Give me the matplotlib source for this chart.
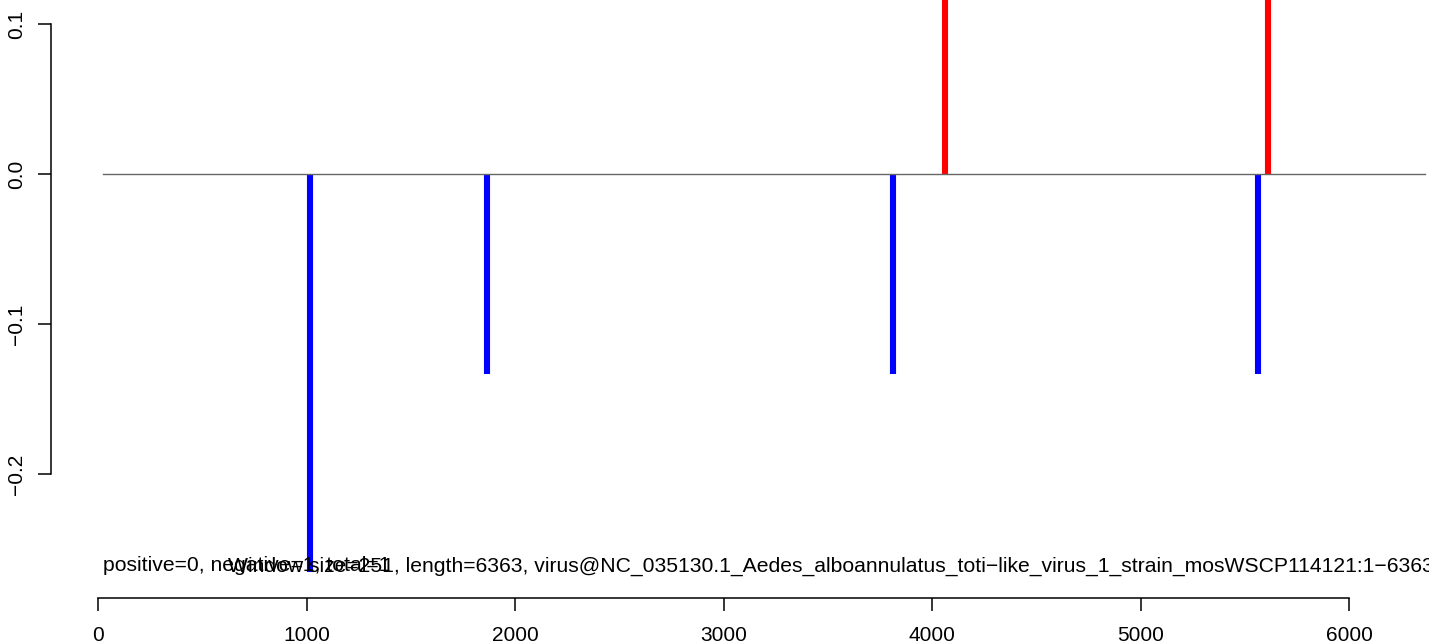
import matplotlib
matplotlib.use("Agg")
import matplotlib.pyplot as plt

plt.rcParams['font.family'] = ['Liberation Sans', 'DejaVu Sans']

# window positions and scores
neg_pos = [1017, 1866, 3813, 5564]
neg_val = [-0.265, -0.1333, -0.1333, -0.1333]
pos_pos = [4062, 5612]
pos_val = [0.2667, 0.2667]
seq_start = 24
seq_end = 6363
x_ticks = [0, 1000, 2000, 3000, 4000, 5000, 6000]
y_ticks = [-0.2, -0.1, 0.0, 0.1]
y_ticklabels = ['\u22120.2', '\u22120.1', '0.0', '0.1']
info_text = 'positive=0, negative=1, total=1'
title_text = ('Window size=251, length=6363, '
              'virus@NC_035130.1_Aedes_alboannulatus_toti\u2212like_virus_1_strain_mosWSCP114121:1\u22126363')

W, H = 1429, 644
fig = plt.figure(figsize=(W / 100, H / 100), dpi=100)
ax = fig.add_axes([0, 0, 1, 1])

# pixel mapping: x=0 at 98px, 208.5px per 1000; y=0 at 174px, 1500px per unit
xs = 0.2085
x0px = 98
y0px = 174
ys = 1500
ax.set_xlim(-x0px / xs, (W - x0px) / xs)
ax.set_ylim(-(H - y0px) / ys, y0px / ys)
ax.patch.set_alpha(0)

ax.vlines(neg_pos, 0, neg_val, colors='#0000FF', linewidth=4.4, capstyle='butt', zorder=2)
ax.vlines(pos_pos, 0, pos_val, colors='#FF0000', linewidth=4.4, capstyle='butt', zorder=2)
ax.plot([seq_start, seq_end], [0, 0], color='#666666', linewidth=1.0, zorder=3)

# the two labels overlap in the original too
fs = 15.2
ax.text(seq_start, -(566 - y0px) / ys, info_text, ha='left', va='center', fontsize=fs)
ax.text((228 - x0px) / xs, -(566 - y0px) / ys, title_text, ha='left', va='center', fontsize=fs)

for s in ['top', 'right']:
    ax.spines[s].set_visible(False)
ax.spines['left'].set_position(('data', (50.7 - x0px) / xs))
ax.spines['left'].set_bounds(-0.2, 0.1)
ax.spines['bottom'].set_position(('data', -(598 - y0px) / ys))
ax.spines['bottom'].set_bounds(0, 6000)
for s in ['left', 'bottom']:
    ax.spines[s].set_linewidth(1.1)

ax.set_xticks(x_ticks)
ax.set_xticklabels([str(t) for t in x_ticks])
ax.set_yticks(y_ticks)
ax.set_yticklabels(y_ticklabels, rotation=90, va='center')
ax.tick_params(axis='both', length=9.5, width=1.1, labelsize=15)
ax.tick_params(axis='x', pad=11)
ax.tick_params(axis='y', pad=8)

fig.savefig('out.png', dpi=100)
